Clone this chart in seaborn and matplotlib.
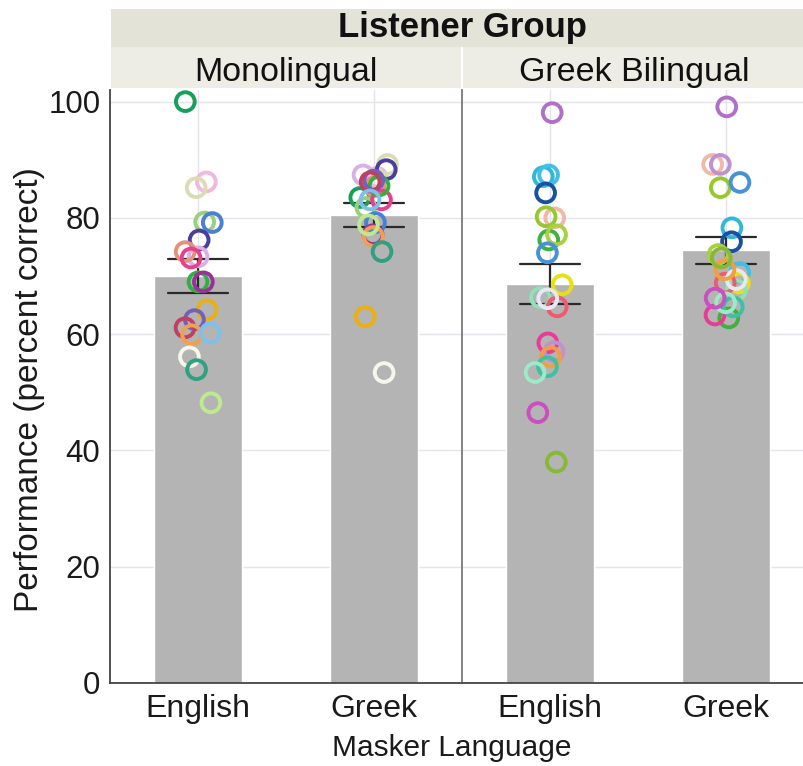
import numpy as np
import pandas as pd
import matplotlib
matplotlib.use("Agg")
import matplotlib.pyplot as plt
from matplotlib.patches import Rectangle
from matplotlib.ticker import MultipleLocator
import seaborn as sns

sns.set_style("white")
plt.rcParams["font.family"] = ["Liberation Sans", "DejaVu Sans"]

# ---- data -------------------------------------------------------------
maskers = ["English", "Greek"]
groups = ["Monolingual", "Greek Bilingual"]

# Monolingual listeners: one colour per listener, scores per masker language
mono_colors = ["#16a05a", "#f0b8dc", "#dcdcb4", "#9ad07a", "#4a80d0",
               "#4a3ca0", "#d8b0e8", "#e8907a", "#e8408a", "#30b040",
               "#9a309a", "#e8b010", "#7060c0", "#c04060", "#f0a050",
               "#80c0e8", "#f6f6ea", "#30a080", "#c0e890"]
mono_english = [100.0, 86.2, 85.2, 79.3, 79.2, 76.2, 73.3, 74.2, 73.1, 69.0,
                69.0, 64.2, 62.5, 61.1, 59.9, 60.2, 56.1, 53.9, 48.2]
mono_greek = [83.5, 87.0, 89.2, 81.8, 79.2, 88.3, 87.4, 85.4, 83.1, 85.5,
              77.1, 63.0, 86.5, 86.2, 76.8, 83.1, 53.4, 74.2, 78.8]

# Greek-English bilingual listeners
bil_colors = ["#b070c8", "#30b8d8", "#40c0e8", "#1a50a0", "#f0b8a8",
              "#98c830", "#40b040", "#a8d040", "#4890d8", "#e8e010",
              "#90e0b8", "#f05a70", "#e8e8f4", "#e83c98", "#c090d0",
              "#f0a040", "#40c0a0", "#a0e8c8", "#c850c0", "#88b838"]
bil_english = [98.1, 87.1, 87.4, 84.3, 80.0, 80.2, 76.2, 77.1, 74.0, 68.5,
               66.3, 64.7, 66.1, 58.5, 57.0, 56.1, 54.4, 53.4, 46.5, 38.0]
bil_greek = [99.1, 78.3, 70.6, 75.9, 89.2, 85.2, 62.8, 73.7, 86.1, 68.8,
             67.6, 68.8, 69.4, 63.3, 89.2, 71.1, 64.7, 65.4, 66.2, 73.1]

# ---- long-form table ----------------------------------------------------
rows = []
palette = {}
for gname, prefix, cols, eng, grk in [
        ("Monolingual", "M", mono_colors, mono_english, mono_greek),
        ("Greek Bilingual", "B", bil_colors, bil_english, bil_greek)]:
    for i, c in enumerate(cols):
        lid = f"{prefix}{i + 1:02d}"
        palette[lid] = c
        rows.append((gname, "English", lid, eng[i]))
        rows.append((gname, "Greek", lid, grk[i]))
df = pd.DataFrame(rows, columns=["group", "masker", "listener", "score"])

# ---- figure -----------------------------------------------------------
W, H = 804, 766
fig = plt.figure(figsize=(W / 100, H / 100), dpi=100)

x0, xm, x1 = 110 / W, 462 / W, 1.0
yb, yt = (H - 683) / H, (H - 90) / H
ax1 = fig.add_axes([x0, yb, xm - x0, yt - yb])
ax2 = fig.add_axes([xm, yb, x1 - xm, yt - yb], sharey=ax1)

BAR = "#b4b4b4"
GRID = "#e4e4ea"
SPINE = "#444444"

np.random.seed(7)
for ax, g in zip([ax1, ax2], groups):
    sub = df[df["group"] == g]
    sns.barplot(data=sub, x="masker", y="score", order=maskers, color=BAR,
                saturation=1, width=0.5, errorbar="se", capsize=0.34,
                err_kws={"color": "#2a2a2a", "linewidth": 1.6}, ax=ax)
    sns.stripplot(data=sub, x="masker", y="score", order=maskers,
                  hue="listener", palette=palette, jitter=0.085, size=13.5,
                  linewidth=2.8, legend=False, ax=ax, zorder=3)
    # hollow rings
    for coll in ax.collections:
        fc = coll.get_facecolors()
        coll.set_edgecolors(fc)
        coll.set_facecolors("none")
        coll.set_linewidths(2.8)

    ax.set_ylim(0, 102)
    ax.set_xlabel("")
    ax.set_ylabel("")
    ax.set_axisbelow(True)
    ax.yaxis.set_major_locator(MultipleLocator(20))
    ax.yaxis.set_minor_locator(MultipleLocator(10))
    ax.grid(axis="y", which="major", color=GRID, linewidth=1)
    ax.grid(axis="x", which="major", color=GRID, linewidth=1)
    ax.tick_params(axis="x", length=0, labelsize=23, pad=8, labelcolor="#1a1a1a")
    for s in ["top", "right"]:
        ax.spines[s].set_visible(False)
    ax.spines["bottom"].set_color(SPINE)
    ax.spines["bottom"].set_linewidth(1.3)

ax1.set_xlim(-0.5, 1.5)
ax2.set_xlim(-0.5, 1.443)

ax1.spines["left"].set_color(SPINE)
ax1.spines["left"].set_linewidth(1.3)
ax1.tick_params(axis="y", which="major", direction="in", length=6, width=1.2,
                color=SPINE, labelsize=22.5, pad=7, labelcolor="#1a1a1a")
ax1.tick_params(axis="y", which="minor", direction="in", length=4, width=1.2,
                color=SPINE)
ax2.spines["left"].set_color("#7a7a7a")
ax2.spines["left"].set_linewidth(1.3)
ax2.tick_params(axis="y", which="both", left=False, labelleft=False)

# ---- facet header bands ------------------------------------------------
def band(xa, xb, ya, yb_, color):
    fig.add_artist(Rectangle((xa / W, (H - yb_) / H), (xb - xa) / W,
                             (yb_ - ya) / H, transform=fig.transFigure,
                             facecolor=color, edgecolor="none", zorder=0))

band(111, 804, 9, 47, "#e3e3d8")
band(111, 461, 47, 88, "#ededE5")
band(463, 804, 47, 88, "#ededE5")

fig.text(462 / W, (H - 37) / H, "Listener Group", ha="center", va="baseline",
         fontsize=25, fontweight="bold", color="#111111")
fig.text(286 / W, (H - 81) / H, "Monolingual", ha="center", va="baseline",
         fontsize=24.5, color="#111111")
fig.text(634 / W, (H - 81) / H, "Greek Bilingual", ha="center", va="baseline",
         fontsize=24.5, color="#111111")

# ---- axis titles ---------------------------------------------------------
fig.text(452 / W, (H - 756) / H, "Masker Language", ha="center",
         va="baseline", fontsize=21.5, color="#1a1a1a")
fig.text(30 / W, (H - 390) / H, "Performance (percent correct)", rotation=90,
         ha="center", va="center", fontsize=24, color="#1a1a1a")

fig.savefig("out.png", dpi=100)
